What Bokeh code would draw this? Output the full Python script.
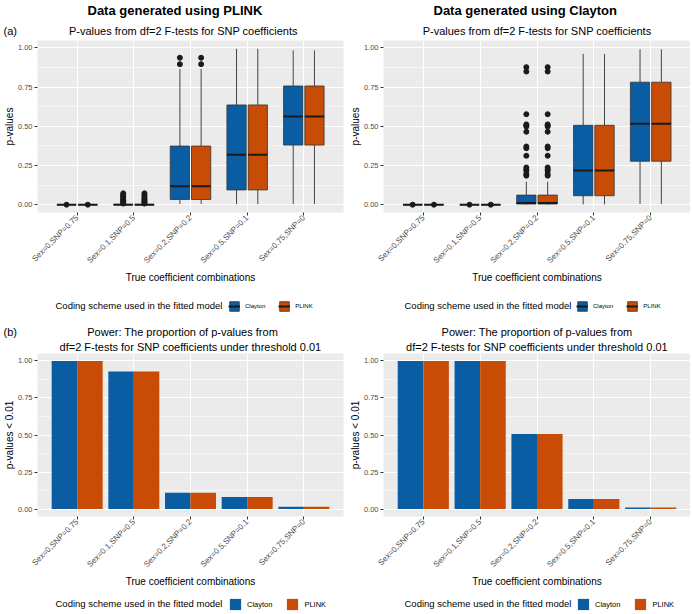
import math
from bokeh.plotting import figure
from bokeh.models import (ColumnDataSource, FactorRange, Range1d, FixedTicker,
                          PrintfTickFormatter, Legend, LegendItem, Title, Label)
from bokeh.transform import dodge
from bokeh.layouts import column, row
from bokeh.embed import file_html
from bokeh.resources import INLINE

FONT = "Liberation Sans"
BLUE = "#0B5DA3"
ORANGE = "#C84C05"
BG = "#EBEBEB"
NB = "\u00a0"

categories = ["Sex=0,SNP=0.75", "Sex=0.1,SNP=0.5", "Sex=0.2,SNP=0.2",
              "Sex=0.5,SNP=0.1", "Sex=0.75,SNP=0"]
schemes = ["Clayton", "PLINK"]
scheme_colors = [BLUE, ORANGE]
y_ticks = [0.0, 0.25, 0.5, 0.75, 1.0]
y_minor = [0.125, 0.375, 0.625, 0.875]

# (a) p-value box statistics, data generated using PLINK (same for both fitted schemes)
plink_lower = [0.0, 0.0, 0.005, 0.003, 0.005]
plink_q1 = [0.0, 0.0, 0.033, 0.094, 0.380]
plink_median = [0.0, 0.0, 0.118, 0.319, 0.562]
plink_q3 = [0.0, 0.002, 0.374, 0.636, 0.757]
plink_upper = [0.0, 0.004, 0.865, 0.994, 0.984]
plink_out_idx = [0, 1, 1, 1, 1, 1, 1, 1, 1, 1, 2, 2]
plink_out_val = [0.0, 0.072, 0.062, 0.052, 0.043, 0.035, 0.027, 0.020, 0.013, 0.007, 0.937, 0.896]

# (a) p-value box statistics, data generated using Clayton
clayton_lower = [0.0, 0.0, 0.0, 0.002, 0.005]
clayton_q1 = [0.0, 0.0, 0.004, 0.057, 0.277]
clayton_median = [0.0, 0.0, 0.010, 0.218, 0.516]
clayton_q3 = [0.0, 0.0, 0.061, 0.506, 0.781]
clayton_upper = [0.0, 0.0, 0.147, 0.961, 0.991]
clayton_out_idx = [0, 1, 2, 2, 2, 2, 2, 2, 2, 2, 2, 2, 2, 2, 2, 2, 2]
clayton_out_val = [0.0, 0.0, 0.877, 0.849, 0.577, 0.512, 0.505, 0.498, 0.465,
                   0.371, 0.360, 0.312, 0.237, 0.225, 0.215, 0.195, 0.185]

# (b) power: proportion of p-values < 0.01
plink_power = [1.0, 0.929, 0.110, 0.081, 0.016]
clayton_power = [1.0, 1.0, 0.506, 0.068, 0.010]

BOX_OFF = [-0.1875, 0.1875]
BOX_W = 0.34
BAR_OFF = [-0.225, 0.225]
BAR_W = 0.45

LEGEND_TITLE = "Coding scheme used in the fitted model"
# column geometry: (figure width, min border left, min border right)
COLS = [(346, 35, 3), (344, 36, 0)]


def make_fig(col, height, top, bottom, yend):
    w, bl, br = COLS[col]
    p = figure(width=w, height=height,
               x_range=FactorRange(factors=categories, range_padding=0.2,
                                   range_padding_units="absolute"),
               y_range=Range1d(-0.05, yend),
               output_backend="svg", toolbar_location=None,
               min_border_left=bl, min_border_right=br,
               min_border_top=top, min_border_bottom=bottom,
               background_fill_color=BG, border_fill_color="white",
               outline_line_color=None)
    t = FixedTicker(ticks=y_ticks, minor_ticks=y_minor)
    p.yaxis.ticker = t
    p.ygrid.ticker = t
    p.yaxis.formatter = PrintfTickFormatter(format="%.2f")
    p.xgrid.grid_line_color = "white"
    p.xgrid.grid_line_width = 1.1
    p.ygrid.grid_line_color = "white"
    p.ygrid.grid_line_width = 1.1
    p.ygrid.minor_grid_line_color = "white"
    p.ygrid.minor_grid_line_width = 0.5
    for ax in (p.xaxis[0], p.yaxis[0]):
        ax.axis_line_color = None
        ax.major_tick_line_color = "#333333"
        ax.major_tick_out = 3
        ax.major_tick_in = 0
        ax.minor_tick_line_color = None
        ax.major_label_text_font = FONT
        ax.major_label_text_font_size = "7.5px"
        ax.major_label_text_color = "#4D4D4D"
        ax.major_label_standoff = 1
        ax.axis_label_text_font = FONT
        ax.axis_label_text_font_size = "10px"
        ax.axis_label_text_font_style = "normal"
        ax.axis_label_text_color = "black"
        ax.axis_label_standoff = 0
    p.xaxis.major_label_orientation = math.pi / 4
    p.xaxis.major_label_text_font_size = "8px"
    p.xaxis.axis_label = "True coefficient combinations"
    p.xaxis.axis_label_standoff = 1
    return p


def add_title(p, text, align="center", offset=0, size="11px", style="normal", standoff=2):
    p.add_layout(Title(text=text, align=align, offset=offset, text_font=FONT,
                       text_font_size=size, text_font_style=style,
                       text_color="black", standoff=standoff), "above")


def legend_strip(col, kind, height, glyph, label_size, center, title_x, keys_x):
    w = COLS[col][0]
    s = figure(width=w, height=height, x_range=Range1d(0, 1), y_range=Range1d(0, 1),
               output_backend="svg", toolbar_location=None,
               x_axis_location=None, y_axis_location=None,
               min_border_left=0, min_border_right=0, min_border_top=0, min_border_bottom=0,
               background_fill_color="white", border_fill_color="white",
               outline_line_color=None)
    s.grid.visible = False
    # legend-key renderers: one hidden row placed outside the visible range
    hidden = ColumnDataSource(dict(x=[-5.0], y=[-5.0]))
    items = []
    for scheme, color in zip(schemes, scheme_colors):
        if kind == "box":
            b = s.vbar(x="x", top="y", bottom="y", width=0.1, source=hidden,
                       fill_color=color, line_color="#333333", line_width=0.8)
            m = s.segment(x0="x", y0="y", x1="x", y1="y", source=hidden,
                          line_color="#1A1A1A", line_width=2)
            items.append(LegendItem(label=scheme, renderers=[b, m]))
        else:
            b = s.vbar(x="x", top="y", bottom="y", width=0.1, source=hidden,
                       fill_color=color, line_color=None)
            items.append(LegendItem(label=scheme, renderers=[b]))
    h = glyph + 2
    leg = Legend(items=items, orientation="horizontal",
                 location=(keys_x, center - h / 2),
                 padding=1, margin=0, spacing=13,
                 glyph_width=glyph, glyph_height=glyph,
                 label_height=glyph, label_width=8, label_standoff=5,
                 label_text_font=FONT, label_text_font_size=label_size,
                 label_text_color="black",
                 border_line_color=None, background_fill_alpha=0)
    s.add_layout(leg, "center")
    s.add_layout(Label(x=title_x, y=center, x_units="screen", y_units="screen",
                       text=LEGEND_TITLE, text_font=FONT, text_font_size="9.5px",
                       text_baseline="middle", text_align="left", text_color="black"))
    return s


def box_fig(col, lower, q1, med, q3, upper, out_idx, out_val, header, letter):
    p = make_fig(col, 286, 40, 66, 1.047)
    p.yaxis.axis_label = "p-values"
    sub = "P-values from df=2 F-tests for SNP coefficients"
    if letter:
        add_title(p, letter + NB * 17 + sub, align="left", offset=-34, standoff=8)
    else:
        add_title(p, sub, standoff=8)
    add_title(p, header, align="left", offset=50, size="13px", style="bold", standoff=1)
    for scheme, color, off in zip(schemes, scheme_colors, BOX_OFF):
        src = ColumnDataSource(dict(cat=categories, lower=lower, q1=q1, med=med,
                                    q3=q3, upper=upper))
        x = dodge("cat", off, range=p.x_range)
        p.segment(x0=x, y0="q3", x1=x, y1="upper", source=src,
                  line_color="#444444", line_width=1)
        p.segment(x0=x, y0="lower", x1=x, y1="q1", source=src,
                  line_color="#444444", line_width=1)
        p.vbar(x=x, width=BOX_W, bottom="q1", top="q3", source=src,
               fill_color=color, line_color="#333333", line_width=0.8)
        p.segment(x0=dodge("cat", off - BOX_W / 2, range=p.x_range), y0="med",
                  x1=dodge("cat", off + BOX_W / 2, range=p.x_range), y1="med",
                  source=src, line_color="#1A1A1A", line_width=2)
        osrc = ColumnDataSource(dict(cat=[categories[i] for i in out_idx], val=out_val))
        p.scatter(x=dodge("cat", off, range=p.x_range), y="val", source=osrc,
                  size=5, fill_color="#1A1A1A", line_color="#1A1A1A")
    return p


def bar_fig(col, values, letter):
    p = make_fig(col, 272, 35, 70, 1.05)
    p.yaxis.axis_label = "p-values < 0.01"
    add_title(p, "df=2 F-tests for SNP coefficients under threshold 0.01", standoff=2)
    line1 = "Power: The proportion of p-values from"
    if letter:
        add_title(p, letter + NB * 23 + line1, align="left", offset=-34, standoff=0)
    else:
        add_title(p, line1, standoff=0)
    for scheme, color, off in zip(schemes, scheme_colors, BAR_OFF):
        src = ColumnDataSource(dict(cat=categories, val=values))
        p.vbar(x=dodge("cat", off, range=p.x_range), width=BAR_W, bottom=0,
               top="val", source=src, fill_color=color, line_color=None)
    return p


a1 = box_fig(0, plink_lower, plink_q1, plink_median, plink_q3, plink_upper,
             plink_out_idx, plink_out_val, "Data generated using PLINK", "(a)")
a2 = box_fig(1, clayton_lower, clayton_q1, clayton_median, clayton_q3, clayton_upper,
             clayton_out_idx, clayton_out_val, "Data generated using Clayton", None)
b1 = bar_fig(0, plink_power, "(b)")
b2 = bar_fig(1, clayton_power, None)

la1 = legend_strip(0, "box", 32, 12, "6px", 13, 55, 228)
la2 = legend_strip(1, "box", 32, 12, "6px", 13, 58, 230)
lb1 = legend_strip(0, "bar", 22, 14, "7.5px", 9, 55, 228)
lb2 = legend_strip(1, "bar", 22, 14, "7.5px", 9, 58, 230)

layout = column(row(a1, a2), row(la1, la2), row(b1, b2), row(lb1, lb2))
open("out.html", "w").write(file_html(layout, INLINE))
